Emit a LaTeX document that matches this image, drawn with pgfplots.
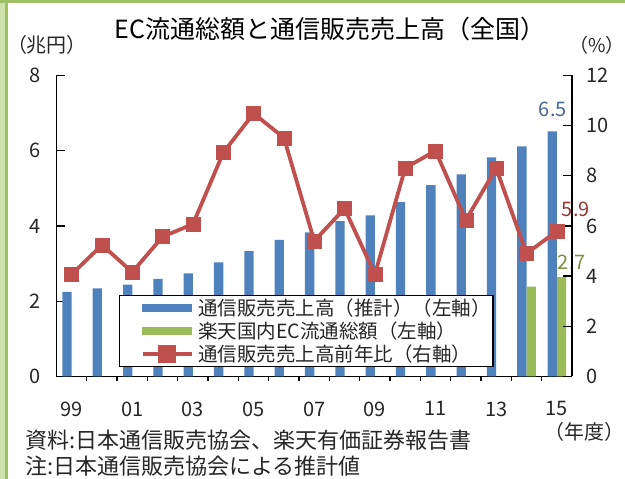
\documentclass[border=0pt]{standalone}
\usepackage{pgfplots}
\pgfplotsset{compat=1.18}
\usepackage{fontspec}
\setmainfont{Noto Sans CJK JP}
\definecolor{blueA}{RGB}{79,129,189}
\definecolor{greenA}{RGB}{155,187,89}
\definecolor{redA}{RGB}{192,80,77}
\definecolor{txt}{RGB}{38,38,38}
\definecolor{lbBlue}{RGB}{74,103,148}
\definecolor{lbRed}{RGB}{149,55,53}
\definecolor{lbGreen}{RGB}{119,147,60}
\definecolor{frameL}{RGB}{205,225,170}
\definecolor{frameD}{RGB}{160,192,100}
\begin{document}
\begin{tikzpicture}[x=1pt,y=1pt]
\path[use as bounding box] (0,0) rectangle (625,479);
\fill[frameL] (0,0) rectangle (5,479);
\fill[frameD] (5,0) rectangle (7.5,479);
\fill[frameD] (0,476) rectangle (625,479);
\pgfplotsset{
  base/.style={
    at={(56.5pt,102.5pt)}, anchor=south west,
    scale only axis, width=515.5pt, height=301.2pt,
    xmin=-0.5, xmax=16.5, ymin=0,
    axis line style={-, line width=1.3pt, black},
    tick style={line width=1.3pt, black},
    tick align=inside,
    major tick length=9pt,
    minor tick length=5pt,
    /pgf/number format/assume math mode=true,
    tick label style={font=\fontsize{20}{24}\selectfont, text=txt},
  }
}
\begin{axis}[base,
  ymax=8,
  axis y line*=left, axis x line*=bottom,
  ytick={0,2,4,6,8},
  xtick={0,2,4,6,8,10,12,14,16},
  xticklabels={99,01,03,05,07,09,11,13,15},
  major x tick style={draw=none},
  minor xtick={0.5,1.5,2.5,3.5,4.5,5.5,6.5,7.5,8.5,9.5,10.5,11.5,12.5,13.5,14.5,15.5},
  xticklabel style={anchor=north, inner sep=0pt, yshift=-16pt},
  yticklabel style={anchor=east, inner sep=0pt, xshift=-16pt},
  ybar, bar width=9.3pt,
  clip=false,
]
\addplot[fill=blueA, draw=none, bar shift=-4.65pt] coordinates {
(0,2.25) (1,2.34) (2,2.44) (3,2.59) (4,2.74) (5,3.03) (6,3.33) (7,3.63)
(8,3.83) (9,4.13) (10,4.28) (11,4.63) (12,5.08) (13,5.37) (14,5.82)
(15,6.11) (16,6.51)};
\addplot[fill=greenA, draw=none, bar shift=4.65pt] coordinates {
(15,2.39) (16,2.64)};
\node[text=lbBlue, font=\fontsize{20}{24}\selectfont, anchor=south, inner sep=0pt]
  at ([xshift=-4pt,yshift=14pt]axis cs:16,6.51) {6.5};
\node[text=lbGreen, font=\fontsize{20}{24}\selectfont, anchor=south, inner sep=0pt]
  at ([xshift=15pt,yshift=7pt]axis cs:16,2.64) {2.7};
\end{axis}
\begin{axis}[base,
  ymax=12,
  axis y line*=right, axis x line=none,
  ytick={0,2,4,6,8,10,12},
  yticklabel style={anchor=west, inner sep=0pt, xshift=14pt},
  clip=false,
  legend style={at={(0.848,0.032)}, anchor=south east, draw=black,
    line width=1.3pt, fill=white, font=\fontsize{19.5}{22}\selectfont,
    inner xsep=2pt, inner ysep=3pt, row sep=5pt, text=txt,
    nodes={inner sep=0pt}},
  legend cell align=left,
]
\addlegendimage{legend image code/.code={\path (0pt,0pt) (73pt,0pt); \fill[blueA] (19pt,-3.5pt) rectangle (68pt,3.5pt);}}
\addlegendentry{通信販売売上高（推計）（左軸）}
\addlegendimage{legend image code/.code={\path (0pt,0pt) (73pt,0pt); \fill[greenA] (19pt,-3.5pt) rectangle (68pt,3.5pt);}}
\addlegendentry{楽天国内EC流通総額（左軸）}
\addplot[redA, line width=3.8pt, mark=square*, mark size=7pt,
  mark options={fill=redA, draw=redA, line width=0.5pt},
  legend image code/.code={\path (0pt,0pt) (73pt,0pt);
     \draw[redA, line width=3.8pt] (19pt,0pt) -- (68pt,0pt);
     \fill[redA] (36.5pt,-7pt) rectangle (50.5pt,7pt);}]
coordinates {
(0,4.07) (1,5.24) (2,4.16) (3,5.57) (4,6.07) (5,8.92) (6,10.48) (7,9.51)
(8,5.40) (9,6.69) (10,4.07) (11,8.31) (12,8.99) (13,6.23) (14,8.30)
(15,4.90) (16,5.79)};
\addlegendentry{通信販売売上高前年比（右軸）}
\node[text=lbRed, font=\fontsize{20}{24}\selectfont, anchor=center, inner sep=0pt]
  at ([xshift=19pt,yshift=22pt]axis cs:16,5.79) {5.9};
\end{axis}
\node[font=\fontsize{25}{30}\selectfont, text=black] at (330,450) {EC流通総額と通信販売売上高（全国）};
\node[font=\fontsize{20}{24}\selectfont, text=txt] at (47,434) {（兆円）};
\node[font=\fontsize{19}{24}\selectfont, text=txt, inner sep=1pt] at (597,434) {（\%）};
\node[font=\fontsize{20}{24}\selectfont, text=txt] at (584,47) {（年度）};
\node[font=\fontsize{22}{25}\selectfont, text=txt, anchor=west, inner sep=0pt] at (25,39) {資料:日本通信販売協会、楽天有価証券報告書};
\node[font=\fontsize{22}{25}\selectfont, text=txt, anchor=west, inner sep=0pt] at (25,13) {注:日本通信販売協会による推計値};
\end{tikzpicture}
\end{document}
